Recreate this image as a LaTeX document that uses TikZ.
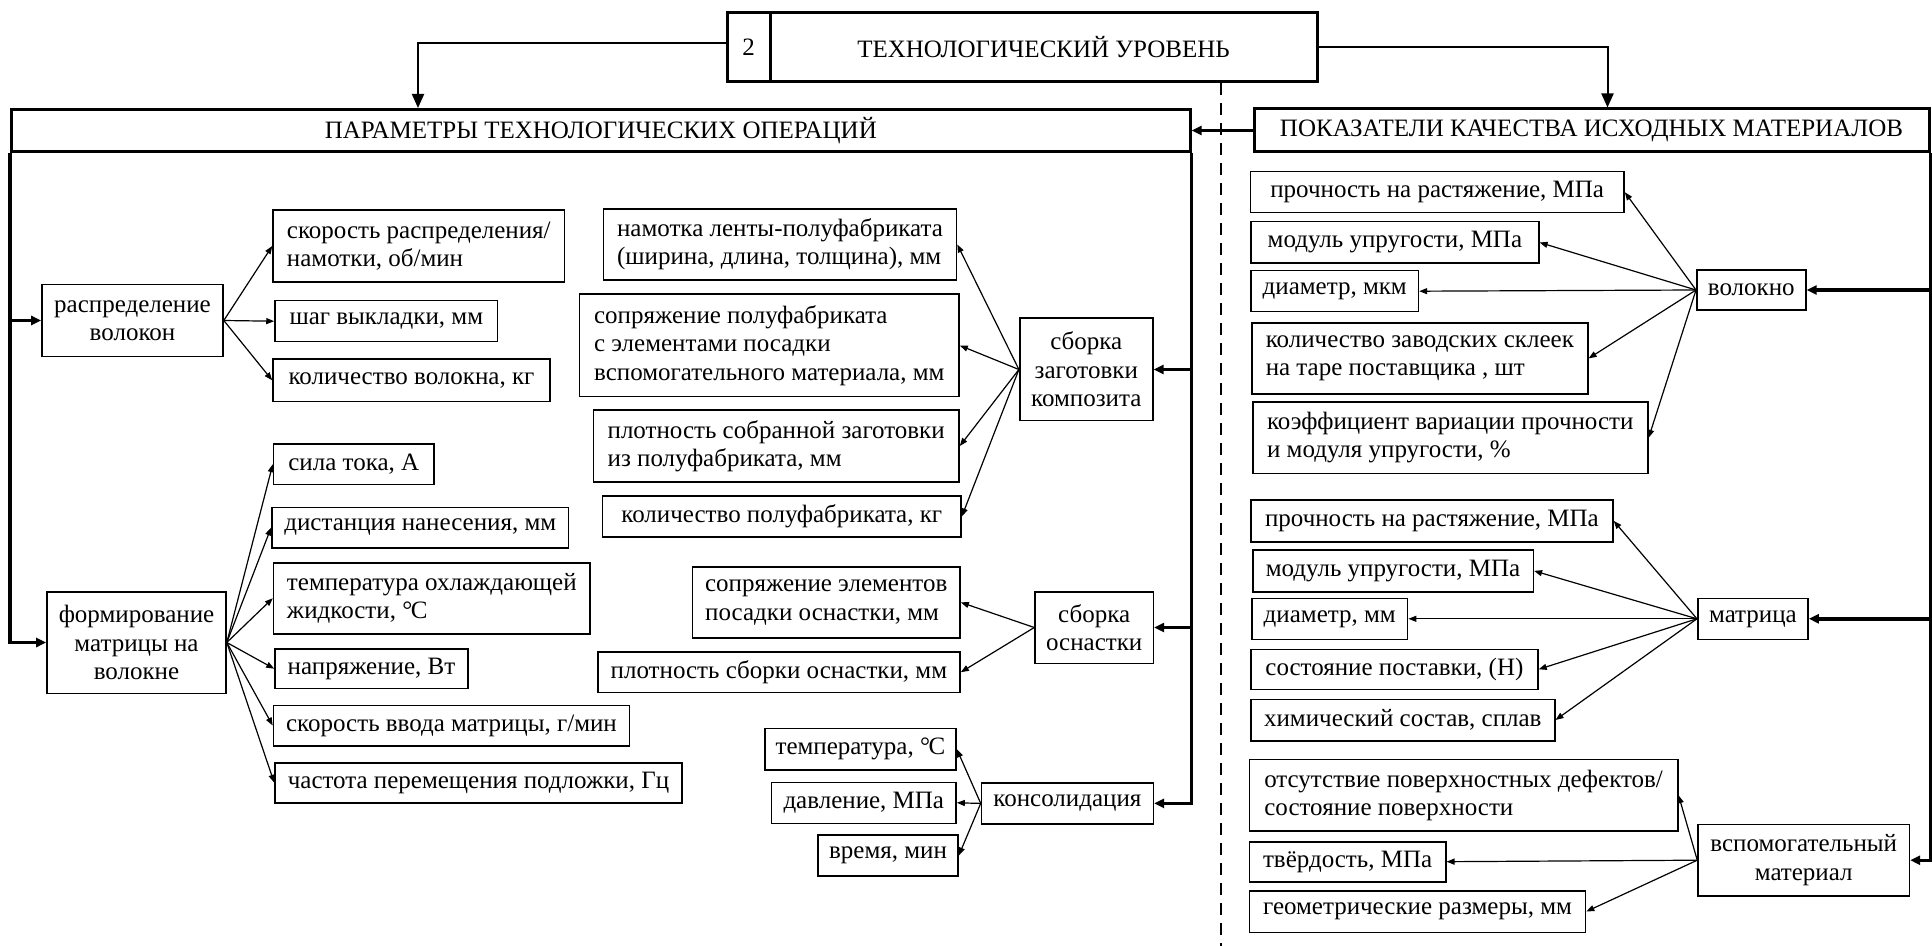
\documentclass[tikz,border=0pt]{standalone}
\usepackage{fontspec}
\setmainfont{Liberation Serif}
\usetikzlibrary{positioning, arrows.meta, calc}
\newcommand{\degC}{°\kern-0.06em C}

\begin{document}
\begin{tikzpicture}[x=0.5pt, y=-0.5pt,
            box/.style={draw, line width=0.8pt, inner sep=2pt, align=center,
                        font=\fontsize{12.5pt}{14.2pt}\selectfont},
            sz/.style 2 args={minimum width=#1*0.5pt, minimum height=#2*0.5pt},
            band/.style={box, line width=1.5pt},
            arr/.style={-{Triangle[length=4pt, width=3pt]}, line width=0.6pt},
            bus/.style={line width=1.7pt},
            busarr/.style={bus, -{Triangle[length=5pt, width=4.5pt]}},
            link/.style={line width=1pt, -{Triangle[length=7pt, width=6pt]}},
            sepline/.style={line width=1.2pt, dash pattern=on 6pt off 4pt}]
            \useasboundingbox (0,0) rectangle (1932,946);

            % header
            \node[band, sz={43}{69}] (num) at (748.5,47.2) {2};
            \node[band, sz={547}{69}] (head) at (1043.5,47.2) {ТЕХНОЛОГИЧЕСКИЙ УРОВЕНЬ};
            \node[band, sz={1178.5}{42}] (param) at (600.8,130.5) {ПАРАМЕТРЫ ТЕХНОЛОГИЧЕСКИХ ОПЕРАЦИЙ};
            \node[band, sz={675}{43}] (pokaz) at (1591.5,130.5) {ПОКАЗАТЕЛИ КАЧЕСТВА ИСХОДНЫХ МАТЕРИАЛОВ};
            \coordinate (hl) at (418,0);
            \coordinate (hr) at (1607.5,0);
            \coordinate (dl) at (1221,946);
            \draw[sepline] (head.south -| dl) -- (dl);
            \draw[link] ([yshift=2pt]num.west) -| (param.north -| hl);
            \draw[link] (head.east) -| (pokaz.north -| hr);
            \draw[busarr] (pokaz.west) -- (param.east);

            % fibre distribution
            \node[box, sz={181}{72}] (rasp) at (132.5,320.5) {распределение\\волокон};
            \node[box, sz={291.5}{72}, align=left] (skor) at (418.8,246) {скорость распределения/\\намотки, об/мин};
            \node[box, sz={222.5}{41}] (shag) at (386.3,321.2) {шаг выкладки, мм};
            \node[box, sz={277}{42.7}] (kolv) at (411.5,380.3) {количество волокна, кг};
            \foreach \t in {skor, shag, kolv}
                \draw[arr] (rasp.east) -- (\t.west);

            % matrix forming
            \node[box, sz={179}{101.6}] (form) at (136.5,642.5) {формирование\\матрицы на\\волокне};
            \node[box, sz={160.4}{40.3}] (sila) at (353.8,464.2) {сила тока, А};
            \node[box, sz={296.7}{40.4}] (dist) at (420.3,527.5) {дистанция нанесения, мм};
            \node[box, sz={316.4}{71}, align=left] (temp) at (431.8,598.2) {температура охлаждающей\\жидкости, \degC};
            \node[box, sz={193}{39.3}] (napr) at (371.5,668.7) {напряжение, Вт};
            \node[box, sz={356}{40.4}] (skvv) at (451.5,725.5) {скорость ввода матрицы, г/мин};
            \node[box, sz={407}{40}] (chast) at (478.5,782.7) {частота перемещения подложки, Гц};
            \foreach \t in {sila, dist, temp, napr, skvv, chast}
                \draw[arr] (form.east) -- (\t.west);

            % blank assembly
            \node[box, sz={133.2}{102.4}] (sbzag) at (1086.3,369.5) {сборка\\заготовки\\композита};
            \node[box, sz={353}{71}, align=left] (namot) at (780,244.5) {намотка ленты-полуфабриката\\(ширина, длина, толщина), мм};
            \node[box, sz={379.5}{102.4}, align=left] (sopr) at (769.3,345.5) {сопряжение полуфабриката\\с элементами посадки\\вспомогательного материала, мм};
            \node[box, sz={365.6}{72}, align=left] (plot) at (776.2,446) {плотность собранной заготовки\\из полуфабриката, мм};
            \node[box, sz={358.5}{40.7}] (kolp) at (781.8,516.4) {количество полуфабриката, кг};
            \foreach \t in {namot, sopr, plot, kolp}
                \draw[arr] (sbzag.west) -- (\t.east);

            % tooling assembly
            \node[box, sz={118.3}{71.6}] (sbosn) at (1094.2,627.5) {сборка\\оснастки};
            \node[box, sz={267.7}{71.3}, align=left] (soel) at (826.2,602.4) {сопряжение элементов\\посадки оснастки, мм};
            \node[box, sz={362.3}{40.3}] (plsb) at (778.9,672.2) {плотность сборки оснастки, мм};
            \foreach \t in {soel, plsb}
                \draw[arr] (sbosn.west) -- (\t.east);

            % consolidation
            \node[box, sz={171.8}{41.3}] (kons) at (1067.4,803.4) {консолидация};
            \node[box, sz={191.3}{41.7}] (tmpr) at (860.4,749.2) {температура, \degC};
            \node[box, sz={184.4}{41}] (davl) at (863.8,802.8) {давление, МПа};
            \node[box, sz={140}{41}] (vrem) at (888,855.5) {время, мин};
            \foreach \t in {tmpr, davl, vrem}
                \draw[arr] (kons.west) -- (\t.east);

            % buses of the left block
            \draw[busarr] (param.south west) |- (form.west);
            \draw[busarr] (param.south west |- rasp.west) -- (rasp.west);
            \draw[busarr] (param.south east) |- (kons.east);
            \draw[busarr] (param.south east |- sbzag.east) -- (sbzag.east);
            \draw[busarr] (param.south east |- sbosn.east) -- (sbosn.east);

            % fibre
            \node[box, sz={109}{40}] (vol) at (1751.3,290) {волокно};
            \node[box, sz={373.6}{41}] (pr1) at (1437.2,192.2) {прочность на растяжение, МПа};
            \node[box, sz={287.8}{41.6}] (mod1) at (1394.9,242.5) {модуль упругости, МПа};
            \node[box, sz={167.4}{41}] (diam1) at (1334.7,291.2) {диаметр, мкм};
            \node[box, sz={336}{71.3}, align=left] (kolz) at (1419.8,358.4) {количество заводских склеек\\на таре поставщика , шт};
            \node[box, sz={395}{71}, align=left] (koef) at (1450.3,437.8) {коэффициент вариации прочности\\и модуля упругости, \%};
            \foreach \t in {pr1, mod1, diam1, kolz, koef}
                \draw[arr] (vol.west) -- (\t.east);

            % matrix
            \node[box, sz={110.3}{41}] (matr) at (1752.9,618.8) {матрица};
            \node[box, sz={362}{41.7}] (pr2) at (1431.9,520.9) {прочность на растяжение, МПа};
            \node[box, sz={280.6}{41.7}] (mod2) at (1393,570.9) {модуль упругости, МПа};
            \node[box, sz={155.7}{41}] (diam2) at (1329.7,618.8) {диаметр, мм};
            \node[box, sz={287}{40}] (sost) at (1394.4,669.3) {состояние поставки, (Н)};
            \node[box, sz={303.8}{41.4}] (him) at (1402.8,720) {химический состав, сплав};
            \foreach \t in {pr2, mod2, diam2, sost, him}
                \draw[arr] (matr.west) -- (\t.east);

            % auxiliary material
            \node[box, sz={211.3}{71.7}] (vsp) at (1803.7,860.2) {вспомогательный\\материал};
            \node[box, sz={428.2}{71.7}, align=left] (otsut) at (1463.6,795.2) {отсутствие поверхностных дефектов/\\состояние поверхности};
            \node[box, sz={196.2}{40}] (tverd) at (1347.6,861.7) {твёрдость, МПа};
            \node[box, sz={336}{41.6}] (geom) at (1417.5,911.5) {геометрические размеры, мм};
            \foreach \t in {otsut, tverd, geom}
                \draw[arr] (vsp.west) -- (\t.east);

            % bus of the right block
            \draw[busarr] (pokaz.south east) |- (vsp.east);
            \draw[busarr] (pokaz.south east |- vol.east) -- (vol.east);
            \draw[busarr] (pokaz.south east |- matr.east) -- (matr.east);
        \end{tikzpicture}
\end{document}
